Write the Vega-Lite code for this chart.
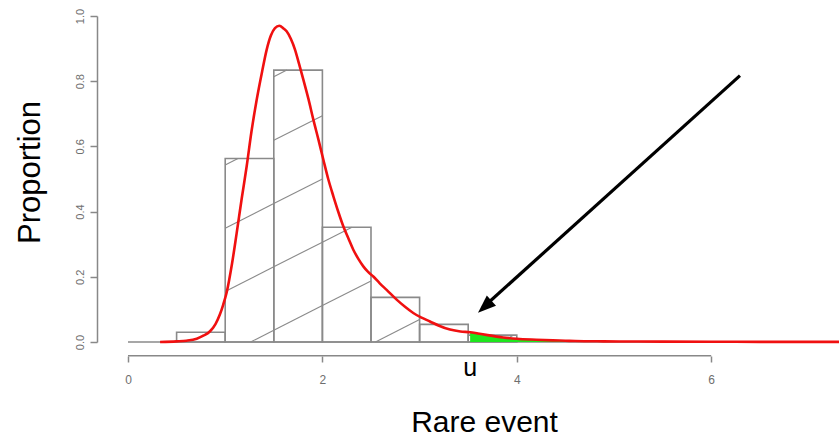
{
  "$schema": "https://vega.github.io/schema/vega-lite/v6.json",
  "width": 711,
  "height": 326,
  "autosize": {"type": "none"},
  "padding": {"left": 128, "top": 16, "right": 0, "bottom": 95},
  "background": "white",
  "config": {"view": {"stroke": null}, "font": "Liberation Sans"},
  "datasets": {
    "bars": [
      {"x0": 0.5, "x1": 1.0, "h": 0.03},
      {"x0": 1.0, "x1": 1.5, "h": 0.563},
      {"x0": 1.5, "x1": 2.0, "h": 0.834},
      {"x0": 2.0, "x1": 2.5, "h": 0.352},
      {"x0": 2.5, "x1": 3.0, "h": 0.137},
      {"x0": 3.0, "x1": 3.5, "h": 0.054},
      {"x0": 3.5, "x1": 4.0, "h": 0.021}
    ],
    "hatch": [
      {"xa": 1.0, "ya": 0.543, "xb": 1.131, "yb": 0.563},
      {"xa": 1.0, "ya": 0.349, "xb": 1.5, "yb": 0.425},
      {"xa": 1.0, "ya": 0.155, "xb": 1.5, "yb": 0.231},
      {"xa": 1.261, "ya": 0.0, "xb": 1.5, "yb": 0.036},
      {"xa": 1.5, "ya": 0.814, "xb": 1.634, "yb": 0.834},
      {"xa": 1.5, "ya": 0.619, "xb": 2.0, "yb": 0.694},
      {"xa": 1.5, "ya": 0.425, "xb": 2.0, "yb": 0.5},
      {"xa": 1.5, "ya": 0.231, "xb": 2.0, "yb": 0.306},
      {"xa": 1.5, "ya": 0.036, "xb": 2.0, "yb": 0.112},
      {"xa": 2.0, "ya": 0.306, "xb": 2.304, "yb": 0.352},
      {"xa": 2.0, "ya": 0.112, "xb": 2.5, "yb": 0.187},
      {"xa": 2.546, "ya": 0.0, "xb": 3.0, "yb": 0.069},
      {"xa": 3.83, "ya": 0.0, "xb": 3.96, "yb": 0.02}
    ],
    "curve": [
      {"x": 0.33, "y": 0.0}, {"x": 0.5, "y": 0.002}, {"x": 0.6, "y": 0.004},
      {"x": 0.707, "y": 0.01}, {"x": 0.78, "y": 0.02}, {"x": 0.844, "y": 0.033},
      {"x": 0.9, "y": 0.055}, {"x": 0.946, "y": 0.085}, {"x": 0.98, "y": 0.115},
      {"x": 1.015, "y": 0.152}, {"x": 1.07, "y": 0.24}, {"x": 1.118, "y": 0.334},
      {"x": 1.17, "y": 0.44}, {"x": 1.221, "y": 0.539}, {"x": 1.27, "y": 0.645},
      {"x": 1.324, "y": 0.743}, {"x": 1.38, "y": 0.83}, {"x": 1.427, "y": 0.897},
      {"x": 1.47, "y": 0.94}, {"x": 1.512, "y": 0.963}, {"x": 1.557, "y": 0.97},
      {"x": 1.6, "y": 0.962}, {"x": 1.632, "y": 0.953}, {"x": 1.675, "y": 0.93},
      {"x": 1.718, "y": 0.897}, {"x": 1.76, "y": 0.853}, {"x": 1.804, "y": 0.805},
      {"x": 1.857, "y": 0.745}, {"x": 1.907, "y": 0.682}, {"x": 1.96, "y": 0.62},
      {"x": 2.01, "y": 0.559}, {"x": 2.06, "y": 0.5}, {"x": 2.113, "y": 0.447},
      {"x": 2.165, "y": 0.398}, {"x": 2.215, "y": 0.355}, {"x": 2.27, "y": 0.316},
      {"x": 2.318, "y": 0.283}, {"x": 2.37, "y": 0.255}, {"x": 2.421, "y": 0.232},
      {"x": 2.47, "y": 0.215}, {"x": 2.524, "y": 0.201}, {"x": 2.59, "y": 0.18},
      {"x": 2.661, "y": 0.16}, {"x": 2.764, "y": 0.13}, {"x": 2.85, "y": 0.108},
      {"x": 2.935, "y": 0.089}, {"x": 3.02, "y": 0.075}, {"x": 3.107, "y": 0.063},
      {"x": 3.2, "y": 0.05}, {"x": 3.313, "y": 0.038}, {"x": 3.42, "y": 0.032},
      {"x": 3.52, "y": 0.03}, {"x": 3.6, "y": 0.026}, {"x": 3.7, "y": 0.021},
      {"x": 3.861, "y": 0.014}, {"x": 4.0, "y": 0.01}, {"x": 4.2, "y": 0.007},
      {"x": 4.37, "y": 0.005}, {"x": 4.5, "y": 0.004}, {"x": 4.6, "y": 0.003},
      {"x": 4.89, "y": 0.002}, {"x": 5.2, "y": 0.0015}, {"x": 5.5, "y": 0.001},
      {"x": 6.0, "y": 0.0008}, {"x": 6.5, "y": 0.0005}, {"x": 7.315, "y": 0.0003}
    ],
    "tail": [
      {"x": 3.52, "y": 0.03}, {"x": 3.6, "y": 0.026}, {"x": 3.7, "y": 0.021},
      {"x": 3.861, "y": 0.014}, {"x": 4.0, "y": 0.01}, {"x": 4.2, "y": 0.007},
      {"x": 4.37, "y": 0.005}, {"x": 4.5, "y": 0.004}
    ],
    "baseline": [{"x": 0.0, "x2": 7.315, "y": 0.0}],
    "xaxisline": [{"x": 0.0, "x2": 6.0, "y": -0.042}],
    "arrow": [{"x": 6.296, "y": 0.817, "x2": 3.65, "y2": 0.105}],
    "arrowhead": [{"x": 3.601, "y": 0.0899}],
    "label": [{"x": 3.52, "y": -0.103, "t": "u"}]
  },
  "layer": [
    {
      "data": {"name": "baseline"},
      "mark": {"type": "rule", "color": "#8a8a8a", "strokeWidth": 1.5},
      "encoding": {
        "x": {"field": "x", "type": "quantitative", "scale": {"domain": [0, 7.315], "nice": false, "zero": false},
          "axis": {"values": [0, 2, 4, 6], "format": "d", "domain": false, "grid": false, "offset": 14, "tickSize": 6, "tickColor": "#888", "tickWidth": 1.5,
            "labelColor": "#6e6e6e", "labelFontSize": 12, "labelPadding": 12, "labelFlush": false,
            "title": "Rare event", "titleFontSize": 30, "titleFontWeight": "normal", "titleColor": "black",
            "titleX": 356, "titleY": 75, "titleAlign": "center", "titleBaseline": "alphabetic", "titleAnchor": null}},
        "x2": {"field": "x2"},
        "y": {"field": "y", "type": "quantitative", "scale": {"domain": [0, 1], "nice": false, "zero": false},
          "axis": {"values": [0, 0.2, 0.4, 0.6, 0.8, 1.0], "format": ".1f", "offset": 31, "grid": false,
            "domainColor": "#888", "domainWidth": 1.5, "tickColor": "#888", "tickWidth": 1.5, "tickSize": 7,
            "labelAngle": 270, "labelAlign": "center", "labelBaseline": "bottom", "labelColor": "#6e6e6e", "labelFontSize": 11, "labelPadding": 5, "labelFlush": false,
            "title": "Proportion", "titleFontSize": 31, "titleFontWeight": "normal", "titleColor": "black", "titleAngle": 270,
            "titleX": -58, "titleY": 156, "titleAlign": "center", "titleBaseline": "alphabetic", "titleAnchor": null}}
      }
    },
    {
      "data": {"name": "bars"},
      "mark": {"type": "rect", "fill": "transparent", "stroke": "#8a8a8a", "strokeWidth": 1.6},
      "encoding": {
        "x": {"field": "x0", "type": "quantitative"},
        "x2": {"field": "x1"},
        "y": {"field": "h", "type": "quantitative"},
        "y2": {"datum": 0}
      }
    },
    {
      "data": {"name": "hatch"},
      "mark": {"type": "rule", "color": "#8a8a8a", "strokeWidth": 1.1},
      "encoding": {
        "x": {"field": "xa", "type": "quantitative"},
        "y": {"field": "ya", "type": "quantitative"},
        "x2": {"field": "xb"},
        "y2": {"field": "yb"}
      }
    },
    {
      "data": {"name": "tail"},
      "mark": {"type": "area", "color": "#1ee61e", "opacity": 1},
      "encoding": {
        "x": {"field": "x", "type": "quantitative"},
        "y": {"field": "y", "type": "quantitative"},
        "y2": {"datum": 0}
      }
    },
    {
      "data": {"name": "curve"},
      "mark": {"type": "line", "color": "#f01010", "strokeWidth": 2.6, "interpolate": "monotone"},
      "encoding": {
        "x": {"field": "x", "type": "quantitative"},
        "y": {"field": "y", "type": "quantitative"}
      }
    },
    {
      "data": {"name": "xaxisline"},
      "mark": {"type": "rule", "color": "#888", "strokeWidth": 1.5},
      "encoding": {
        "x": {"field": "x", "type": "quantitative"},
        "x2": {"field": "x2"},
        "y": {"field": "y", "type": "quantitative"}
      }
    },
    {
      "data": {"name": "arrow"},
      "mark": {"type": "rule", "color": "black", "strokeWidth": 3.2},
      "encoding": {
        "x": {"field": "x", "type": "quantitative"},
        "y": {"field": "y", "type": "quantitative"},
        "x2": {"field": "x2"},
        "y2": {"field": "y2"}
      }
    },
    {
      "data": {"name": "arrowhead"},
      "mark": {"type": "point", "shape": "M0,0L-0.38,1L0.38,1Z", "filled": true, "color": "black", "opacity": 1, "size": 1300, "angle": 228},
      "encoding": {
        "x": {"field": "x", "type": "quantitative"},
        "y": {"field": "y", "type": "quantitative"}
      }
    },
    {
      "data": {"name": "label"},
      "mark": {"type": "text", "fontSize": 25, "align": "center", "baseline": "alphabetic", "color": "black"},
      "encoding": {
        "x": {"field": "x", "type": "quantitative"},
        "y": {"field": "y", "type": "quantitative"},
        "text": {"field": "t"}
      }
    }
  ]
}
